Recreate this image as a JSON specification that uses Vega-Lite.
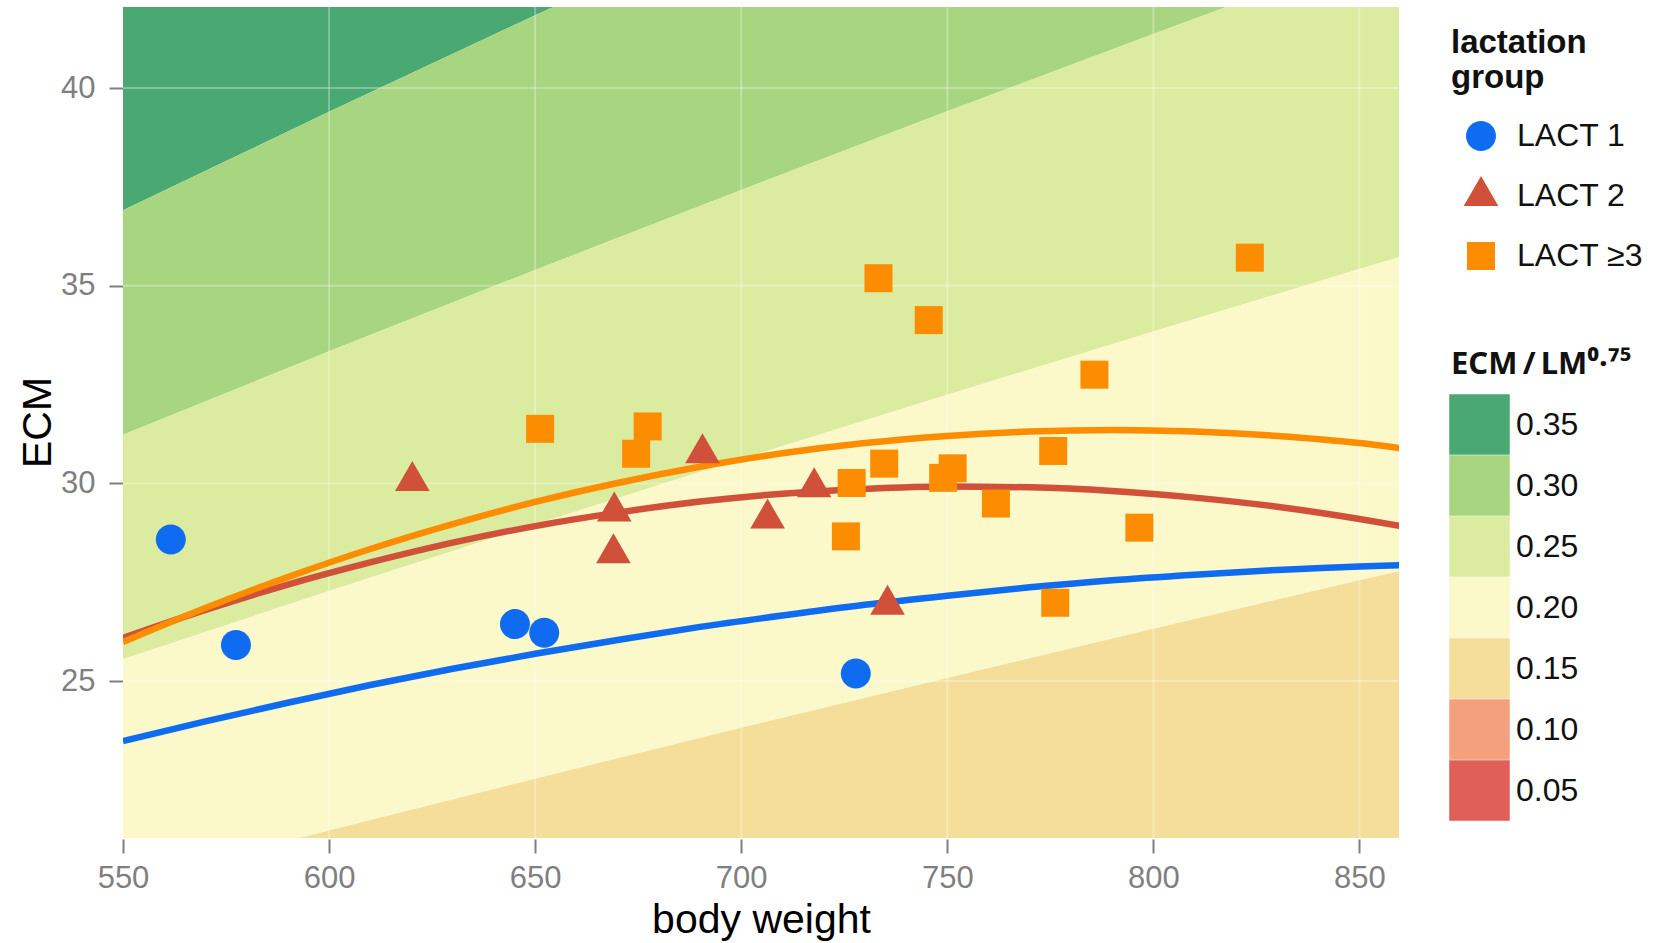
{
  "$schema": "https://vega.github.io/schema/vega-lite/v6.json",
  "width": 1276,
  "height": 831,
  "autosize": {"type": "none"},
  "padding": {"left": 123, "top": 7, "right": 264, "bottom": 105},
  "background": "white",
  "config": {
    "font": "Liberation Sans",
    "view": {"stroke": null},
    "legend": {"padding": 0, "labelFont": "Liberation Sans", "titleFont": "Liberation Sans"}
  },
  "datasets": {
    "bands": [
      {"band": "0.35", "bw": 550, "ecm": 36.91, "ecm2": 42.59},
      {"band": "0.35", "bw": 600, "ecm": 39.40, "ecm2": 45.46},
      {"band": "0.35", "bw": 650, "ecm": 41.84, "ecm2": 48.27},
      {"band": "0.35", "bw": 700, "ecm": 44.23, "ecm2": 51.03},
      {"band": "0.35", "bw": 750, "ecm": 46.58, "ecm2": 53.74},
      {"band": "0.35", "bw": 800, "ecm": 48.89, "ecm2": 56.41},
      {"band": "0.35", "bw": 850, "ecm": 51.16, "ecm2": 59.03},
      {"band": "0.35", "bw": 860, "ecm": 51.61, "ecm2": 59.55},
      {"band": "0.30", "bw": 550, "ecm": 31.23, "ecm2": 36.91},
      {"band": "0.30", "bw": 600, "ecm": 33.34, "ecm2": 39.40},
      {"band": "0.30", "bw": 650, "ecm": 35.40, "ecm2": 41.84},
      {"band": "0.30", "bw": 700, "ecm": 37.42, "ecm2": 44.23},
      {"band": "0.30", "bw": 750, "ecm": 39.41, "ecm2": 46.58},
      {"band": "0.30", "bw": 800, "ecm": 41.37, "ecm2": 48.89},
      {"band": "0.30", "bw": 850, "ecm": 43.29, "ecm2": 51.16},
      {"band": "0.30", "bw": 860, "ecm": 43.67, "ecm2": 51.61},
      {"band": "0.25", "bw": 550, "ecm": 25.55, "ecm2": 31.23},
      {"band": "0.25", "bw": 600, "ecm": 27.28, "ecm2": 33.34},
      {"band": "0.25", "bw": 650, "ecm": 28.96, "ecm2": 35.40},
      {"band": "0.25", "bw": 700, "ecm": 30.62, "ecm2": 37.42},
      {"band": "0.25", "bw": 750, "ecm": 32.24, "ecm2": 39.41},
      {"band": "0.25", "bw": 800, "ecm": 33.84, "ecm2": 41.37},
      {"band": "0.25", "bw": 850, "ecm": 35.42, "ecm2": 43.29},
      {"band": "0.25", "bw": 860, "ecm": 35.73, "ecm2": 43.67},
      {"band": "0.20", "bw": 550, "ecm": 19.87, "ecm2": 25.55},
      {"band": "0.20", "bw": 600, "ecm": 21.22, "ecm2": 27.28},
      {"band": "0.20", "bw": 650, "ecm": 22.53, "ecm2": 28.96},
      {"band": "0.20", "bw": 700, "ecm": 23.82, "ecm2": 30.62},
      {"band": "0.20", "bw": 750, "ecm": 25.08, "ecm2": 32.24},
      {"band": "0.20", "bw": 800, "ecm": 26.32, "ecm2": 33.84},
      {"band": "0.20", "bw": 850, "ecm": 27.55, "ecm2": 35.42},
      {"band": "0.20", "bw": 860, "ecm": 27.79, "ecm2": 35.73},
      {"band": "0.15", "bw": 550, "ecm": 14.20, "ecm2": 19.87},
      {"band": "0.15", "bw": 600, "ecm": 15.15, "ecm2": 21.22},
      {"band": "0.15", "bw": 650, "ecm": 16.09, "ecm2": 22.53},
      {"band": "0.15", "bw": 700, "ecm": 17.01, "ecm2": 23.82},
      {"band": "0.15", "bw": 750, "ecm": 17.91, "ecm2": 25.08},
      {"band": "0.15", "bw": 800, "ecm": 18.80, "ecm2": 26.32},
      {"band": "0.15", "bw": 850, "ecm": 19.68, "ecm2": 27.55},
      {"band": "0.15", "bw": 860, "ecm": 19.85, "ecm2": 27.79}
    ],
    "gridx": [{"bw": 600}, {"bw": 650}, {"bw": 700}, {"bw": 750}, {"bw": 800}, {"bw": 850}],
    "gridy": [{"ecm": 25}, {"ecm": 30}, {"ecm": 35}, {"ecm": 40}],
    "fits": [
      {"group": "LACT 1", "bw": 550, "ecm": 23.48}, {"group": "LACT 1", "bw": 570, "ecm": 23.98},
      {"group": "LACT 1", "bw": 590, "ecm": 24.45}, {"group": "LACT 1", "bw": 610, "ecm": 24.90},
      {"group": "LACT 1", "bw": 630, "ecm": 25.31}, {"group": "LACT 1", "bw": 650, "ecm": 25.69},
      {"group": "LACT 1", "bw": 670, "ecm": 26.04}, {"group": "LACT 1", "bw": 690, "ecm": 26.37},
      {"group": "LACT 1", "bw": 710, "ecm": 26.66}, {"group": "LACT 1", "bw": 730, "ecm": 26.93},
      {"group": "LACT 1", "bw": 750, "ecm": 27.16}, {"group": "LACT 1", "bw": 770, "ecm": 27.37},
      {"group": "LACT 1", "bw": 790, "ecm": 27.55}, {"group": "LACT 1", "bw": 810, "ecm": 27.69},
      {"group": "LACT 1", "bw": 830, "ecm": 27.81}, {"group": "LACT 1", "bw": 850, "ecm": 27.90},
      {"group": "LACT 1", "bw": 860, "ecm": 27.93},
      {"group": "LACT 2", "bw": 550, "ecm": 26.09}, {"group": "LACT 2", "bw": 570, "ecm": 26.80},
      {"group": "LACT 2", "bw": 590, "ecm": 27.44}, {"group": "LACT 2", "bw": 610, "ecm": 28.00},
      {"group": "LACT 2", "bw": 630, "ecm": 28.50}, {"group": "LACT 2", "bw": 650, "ecm": 28.92},
      {"group": "LACT 2", "bw": 670, "ecm": 29.26}, {"group": "LACT 2", "bw": 690, "ecm": 29.54},
      {"group": "LACT 2", "bw": 710, "ecm": 29.74}, {"group": "LACT 2", "bw": 730, "ecm": 29.86},
      {"group": "LACT 2", "bw": 750, "ecm": 29.92}, {"group": "LACT 2", "bw": 770, "ecm": 29.90},
      {"group": "LACT 2", "bw": 790, "ecm": 29.81}, {"group": "LACT 2", "bw": 810, "ecm": 29.64},
      {"group": "LACT 2", "bw": 830, "ecm": 29.41}, {"group": "LACT 2", "bw": 850, "ecm": 29.10},
      {"group": "LACT 2", "bw": 860, "ecm": 28.92},
      {"group": "LACT ≥3", "bw": 550, "ecm": 25.99}, {"group": "LACT ≥3", "bw": 570, "ecm": 26.85},
      {"group": "LACT ≥3", "bw": 590, "ecm": 27.63}, {"group": "LACT ≥3", "bw": 610, "ecm": 28.34},
      {"group": "LACT ≥3", "bw": 630, "ecm": 28.97}, {"group": "LACT ≥3", "bw": 650, "ecm": 29.53},
      {"group": "LACT ≥3", "bw": 670, "ecm": 30.01}, {"group": "LACT ≥3", "bw": 690, "ecm": 30.42},
      {"group": "LACT ≥3", "bw": 710, "ecm": 30.76}, {"group": "LACT ≥3", "bw": 730, "ecm": 31.02},
      {"group": "LACT ≥3", "bw": 750, "ecm": 31.20}, {"group": "LACT ≥3", "bw": 770, "ecm": 31.31},
      {"group": "LACT ≥3", "bw": 790, "ecm": 31.35}, {"group": "LACT ≥3", "bw": 810, "ecm": 31.31},
      {"group": "LACT ≥3", "bw": 830, "ecm": 31.20}, {"group": "LACT ≥3", "bw": 850, "ecm": 31.02},
      {"group": "LACT ≥3", "bw": 860, "ecm": 30.89}
    ],
    "points": [
      {"group": "LACT 1", "bw": 561.6, "ecm": 28.58},
      {"group": "LACT 1", "bw": 577.4, "ecm": 25.91},
      {"group": "LACT 1", "bw": 645.1, "ecm": 26.44},
      {"group": "LACT 1", "bw": 652.2, "ecm": 26.22},
      {"group": "LACT 1", "bw": 727.8, "ecm": 25.19},
      {"group": "LACT 2", "bw": 620.2, "ecm": 30.06},
      {"group": "LACT 2", "bw": 669.2, "ecm": 29.29},
      {"group": "LACT 2", "bw": 669.0, "ecm": 28.23},
      {"group": "LACT 2", "bw": 690.6, "ecm": 30.76},
      {"group": "LACT 2", "bw": 706.4, "ecm": 29.11},
      {"group": "LACT 2", "bw": 717.7, "ecm": 29.90},
      {"group": "LACT 2", "bw": 735.5, "ecm": 26.93},
      {"group": "LACT ≥3", "bw": 651.2, "ecm": 31.38},
      {"group": "LACT ≥3", "bw": 674.5, "ecm": 30.75},
      {"group": "LACT ≥3", "bw": 677.3, "ecm": 31.44},
      {"group": "LACT ≥3", "bw": 733.3, "ecm": 35.19},
      {"group": "LACT ≥3", "bw": 745.5, "ecm": 34.13},
      {"group": "LACT ≥3", "bw": 734.7, "ecm": 30.50},
      {"group": "LACT ≥3", "bw": 726.8, "ecm": 30.01},
      {"group": "LACT ≥3", "bw": 725.4, "ecm": 28.66},
      {"group": "LACT ≥3", "bw": 749.0, "ecm": 30.14},
      {"group": "LACT ≥3", "bw": 751.3, "ecm": 30.38},
      {"group": "LACT ≥3", "bw": 761.8, "ecm": 29.49},
      {"group": "LACT ≥3", "bw": 775.7, "ecm": 30.82},
      {"group": "LACT ≥3", "bw": 776.2, "ecm": 26.98},
      {"group": "LACT ≥3", "bw": 785.7, "ecm": 32.75},
      {"group": "LACT ≥3", "bw": 796.6, "ecm": 28.88},
      {"group": "LACT ≥3", "bw": 823.4, "ecm": 35.71}
    ]
  },
  "layer": [
    {
      "data": {"name": "bands"},
      "mark": {"type": "area", "clip": true, "opacity": 1, "interpolate": "linear"},
      "encoding": {
        "x": {
          "field": "bw", "type": "quantitative",
          "scale": {"domain": [550, 859.6], "nice": false, "zero": false},
          "axis": {
            "title": "body weight", "values": [550, 600, 650, 700, 750, 800, 850],
            "grid": false, "domain": false, "offset": 1,
            "tickSize": 14, "tickWidth": 2, "tickColor": "#7f7f7f",
            "labelFontSize": 31, "labelColor": "#7f7f7f", "labelBaseline": "alphabetic", "labelPadding": 34,
            "labelFlush": false, "labelOverlap": false,
            "titleFontSize": 41, "titleFontWeight": "normal", "titleColor": "#000000",
            "titleX": 638, "titleY": 93, "titleAlign": "center", "titleBaseline": "alphabetic"
          }
        },
        "y": {
          "field": "ecm", "type": "quantitative", "stack": null,
          "scale": {"domain": [21.03, 42.05], "nice": false, "zero": false},
          "axis": {
            "title": "ECM", "values": [25, 30, 35, 40],
            "grid": false, "domain": false,
            "tickSize": 14, "tickWidth": 2, "tickColor": "#7f7f7f",
            "labelFontSize": 31, "labelColor": "#7f7f7f", "labelPadding": 14,
            "labelFlush": false, "labelOverlap": false,
            "titleFontSize": 41, "titleFontWeight": "normal", "titleColor": "#000000",
            "titleAngle": -90, "titleX": -73, "titleY": 415, "titleAlign": "center", "titleBaseline": "alphabetic"
          }
        },
        "y2": {"field": "ecm2"},
        "color": {
          "field": "band", "type": "nominal",
          "scale": {
            "domain": ["0.35", "0.30", "0.25", "0.20", "0.15", "0.10", "0.05"],
            "range": ["#4aa872", "#a7d580", "#dbeb9f", "#fbf8c9", "#f5dd9a", "#f5a07d", "#e05f58"]
          },
          "legend": {
            "title": "ECM\u2009/\u2009LM⁰·⁷⁵",
            "orient": "none", "legendX": 1328, "legendY": 343,
            "titleFont": "Noto Sans", "titleFontSize": 31, "titleFontWeight": "bold", "titleColor": "#111111", "titlePadding": 13,
            "titleBaseline": "top", "titleAnchor": "start", "titleLimit": 400,
            "symbolType": "square", "symbolSize": 3660, "symbolStrokeWidth": 0, "symbolOpacity": 1,
            "symbolOffset": -2, "rowPadding": 0,
            "labelFontSize": 32, "labelColor": "#111111", "labelOffset": 6, "labelLimit": 300
          }
        }
      }
    },
    {
      "data": {"name": "gridx"},
      "mark": {"type": "rule", "color": "#ffffff", "opacity": 0.3, "strokeWidth": 2},
      "encoding": {
        "x": {"field": "bw", "type": "quantitative", "scale": {"domain": [550, 859.6], "nice": false, "zero": false}}
      }
    },
    {
      "data": {"name": "gridy"},
      "mark": {"type": "rule", "color": "#ffffff", "opacity": 0.3, "strokeWidth": 2},
      "encoding": {
        "y": {"field": "ecm", "type": "quantitative", "scale": {"domain": [21.03, 42.05], "nice": false, "zero": false}}
      }
    },
    {
      "data": {"name": "fits"},
      "mark": {"type": "line", "clip": true, "strokeWidth": 6.5, "interpolate": "monotone"},
      "encoding": {
        "x": {"field": "bw", "type": "quantitative", "scale": {"domain": [550, 859.6], "nice": false, "zero": false}},
        "y": {"field": "ecm", "type": "quantitative", "scale": {"domain": [21.03, 42.05], "nice": false, "zero": false}},
        "stroke": {
          "field": "group", "type": "nominal",
          "scale": {"domain": ["LACT ≥3", "LACT 2", "LACT 1"], "range": ["#fc8c00", "#d1503a", "#0f6cf0"]},
          "legend": null
        }
      }
    },
    {
      "data": {"name": "points"},
      "mark": {"type": "point", "filled": true, "opacity": 1, "size": 1600, "strokeWidth": 0, "clip": true},
      "encoding": {
        "x": {"field": "bw", "type": "quantitative", "scale": {"domain": [550, 859.6], "nice": false, "zero": false}},
        "y": {"field": "ecm", "type": "quantitative", "scale": {"domain": [21.03, 42.05], "nice": false, "zero": false}},
        "fill": {
          "field": "group", "type": "nominal",
          "scale": {"domain": ["LACT 1", "LACT 2", "LACT ≥3"], "range": ["#0f6cf0", "#d1503a", "#fc8c00"]},
          "legend": {
            "title": ["lactation", "group"],
            "orient": "none", "legendX": 1328, "legendY": 20,
            "titleFontSize": 33, "titleFontWeight": "bold", "titleColor": "#111111", "titlePadding": 21,
            "titleLineHeight": 35, "titleBaseline": "top", "titleAnchor": "start",
            "symbolSize": 1600, "symbolStrokeWidth": 0, "symbolOpacity": 1, "symbolOffset": 10,
            "rowPadding": 24,
            "labelFontSize": 32, "labelColor": "#111111", "labelOffset": 16, "labelLimit": 300
          }
        },
        "shape": {
          "field": "group", "type": "nominal",
          "scale": {
            "domain": ["LACT 1", "LACT 2", "LACT ≥3"],
            "range": [
              "M-0.75,0A0.75,0.75,0,1,0,0.75,0A0.75,0.75,0,1,0,-0.75,0Z",
              "M0,-1L0.866,0.5L-0.866,0.5Z",
              "M-0.7,-0.7L0.7,-0.7L0.7,0.7L-0.7,0.7Z"
            ]
          },
          "legend": {
            "title": ["lactation", "group"],
            "orient": "none", "legendX": 1328, "legendY": 20,
            "titleFontSize": 33, "titleFontWeight": "bold", "titleColor": "#111111", "titlePadding": 21,
            "titleLineHeight": 35, "titleBaseline": "top", "titleAnchor": "start",
            "symbolSize": 1600, "symbolStrokeWidth": 0, "symbolOpacity": 1, "symbolOffset": 10,
            "rowPadding": 24,
            "labelFontSize": 32, "labelColor": "#111111", "labelOffset": 16, "labelLimit": 300
          }
        }
      }
    }
  ]
}
